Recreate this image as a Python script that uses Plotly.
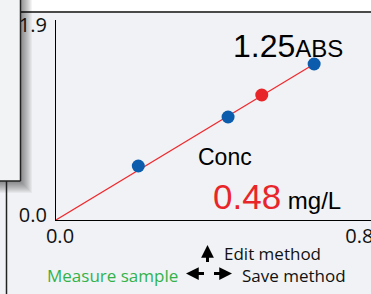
import plotly.graph_objects as go

# ---- data ----
std_conc = [0.22, 0.46, 0.69]
std_abs = [0.54, 1.03, 1.56]
sample_conc = [0.55]
sample_abs = [1.25]
fit_conc = [0.0, 0.69]
fit_abs = [0.0, 1.56]
x_ticks = [0.0, 0.8]
x_tick_text = ["0.0", "0.8"]
y_ticks = [0.0, 1.9]
y_tick_text = ["0.0", "1.9"]
abs_value = "1.25"
abs_unit = "ABS"
conc_label = "Conc"
conc_value = "0.48"
conc_unit = "mg/L"
nav_up = "Edit method"
nav_lr = "Save method"
nav_left = "Measure sample"

W, H = 371, 294
ML, MR, MT, MB = 56, 0, 20, 74
PW, PH = W - ML - MR, H - MT - MB


def px(p):
    return (p - ML) / PW


def py(p):
    return (H - MB - p) / PH


BG = "#f0f2f5"

fig = go.Figure()
fig.add_trace(go.Scatter(x=fit_conc, y=fit_abs, mode="lines",
                         line=dict(color="#f0282d", width=1.2),
                         hoverinfo="skip", showlegend=False, cliponaxis=False))
fig.add_trace(go.Scatter(x=std_conc, y=std_abs, mode="markers",
                         marker=dict(color="#0b5cad", size=13),
                         showlegend=False, cliponaxis=False))
fig.add_trace(go.Scatter(x=sample_conc, y=sample_abs, mode="markers",
                         marker=dict(color="#e8262a", size=13),
                         showlegend=False, cliponaxis=False))

shapes = []
# top white strip and dark separator line
shapes.append(dict(type="rect", xref="paper", yref="paper", layer="below",
                   x0=px(20), x1=px(W + 2), y0=py(-2), y1=py(11.5),
                   fillcolor="#ffffff", line=dict(width=0)))
shapes.append(dict(type="line", xref="paper", yref="paper", layer="below",
                   x0=px(20), x1=px(W + 2), y0=py(12), y1=py(12),
                   line=dict(color="#4a4a4a", width=2)))
# shadow of the left dialog panel
n = 12
for i in range(n):
    shapes.append(dict(type="rect", xref="paper", yref="paper", layer="below",
                       x0=px(-20), x1=px(21 + i), y0=py(-20), y1=py(182 + i),
                       fillcolor="rgba(0,0,0,0.045)", line=dict(width=0)))
# the panel itself
shapes.append(dict(type="rect", xref="paper", yref="paper", layer="below",
                   x0=px(-20), x1=px(20.5), y0=py(-20), y1=py(181),
                   fillcolor="#f2f3f5", line=dict(width=0)))
shapes.append(dict(type="line", xref="paper", yref="paper", layer="below",
                   x0=px(20.5), x1=px(20.5), y0=py(-2), y1=py(181),
                   line=dict(color="#222222", width=1.5)))
shapes.append(dict(type="line", xref="paper", yref="paper", layer="below",
                   x0=px(-2), x1=px(20.5), y0=py(181), y1=py(181),
                   line=dict(color="#222222", width=1.5)))
# vertical line below the panel
shapes.append(dict(type="line", xref="paper", yref="paper", layer="below",
                   x0=px(6.5), x1=px(6.5), y0=py(181), y1=py(H + 2),
                   line=dict(color="#222222", width=1.5)))

ann = []
ann.append(dict(xref="paper", yref="paper", x=px(231), y=py(46),
                xanchor="left", yanchor="middle", showarrow=False,
                text=abs_value + "<span style='font-size:24px'>" + abs_unit + "</span>",
                font=dict(family="Liberation Sans", size=32, color="#000000")))
ann.append(dict(xref="paper", yref="paper", x=px(196), y=py(157),
                xanchor="left", yanchor="middle", showarrow=False,
                text=conc_label,
                font=dict(family="Liberation Sans", size=23, color="#000000")))
ann.append(dict(xref="paper", yref="paper", x=px(211), y=py(196),
                xanchor="left", yanchor="middle", showarrow=False,
                text=conc_value + "<span style='font-size:24px;fill:#000000'> " + conc_unit + "</span>",
                font=dict(family="Liberation Sans", size=35, color="#e8262a")))
ann.append(dict(xref="paper", yref="paper", x=px(222), y=py(253),
                xanchor="left", yanchor="middle", showarrow=False,
                text=nav_up,
                font=dict(family="Open Sans", size=17, color="#111111")))
ann.append(dict(xref="paper", yref="paper", x=px(240), y=py(275),
                xanchor="left", yanchor="middle", showarrow=False,
                text=nav_lr,
                font=dict(family="Open Sans", size=17, color="#111111")))
ann.append(dict(xref="paper", yref="paper", x=px(45), y=py(275),
                xanchor="left", yanchor="middle", showarrow=False,
                text=nav_left,
                font=dict(family="Open Sans", size=17, color="#33b24a")))
# navigation arrows
for (hx, hy, tx, ty) in [(207.5, 245, 207.5, 263.5), (186, 273.5, 205.5, 273.5),
                         (232, 273.5, 212.5, 273.5)]:
    ann.append(dict(xref="paper", yref="paper", x=px(hx), y=py(hy),
                    axref="pixel", ayref="pixel", ax=tx - hx, ay=ty - hy,
                    text="", showarrow=True, arrowhead=2, arrowsize=0.85,
                    arrowwidth=3, arrowcolor="#000000"))

fig.update_layout(
    width=W, height=H,
    margin=dict(l=ML, r=MR, t=MT, b=MB, pad=0, autoexpand=False),
    paper_bgcolor=BG, plot_bgcolor=BG,
    showlegend=False,
    shapes=shapes, annotations=ann,
    xaxis=dict(range=[0, 0.842], tickvals=x_ticks, ticktext=x_tick_text,
               showgrid=False, zeroline=False, showline=True, automargin=False,
               linecolor="#000000", linewidth=1.3, ticks="",
               ticklabelshift=4, ticklabelstandoff=-2, ticklabeloverflow="allow",
               tickfont=dict(family="Open Sans", size=20, color="#111111")),
    yaxis=dict(range=[0, 2.0], tickvals=y_ticks, ticktext=y_tick_text,
               showgrid=False, zeroline=False, showline=True, automargin=False,
               linecolor="#000000", linewidth=1.3, ticks="",
               ticklabelshift=-5, ticklabelstandoff=4, ticklabeloverflow="allow",
               tickfont=dict(family="Open Sans", size=20, color="#111111")),
)

fig.write_html(
    "out.html",
    config={"displayModeBar": False},
    post_script="document.body.style.margin='0';document.body.style.background='%s';" % BG,
)
